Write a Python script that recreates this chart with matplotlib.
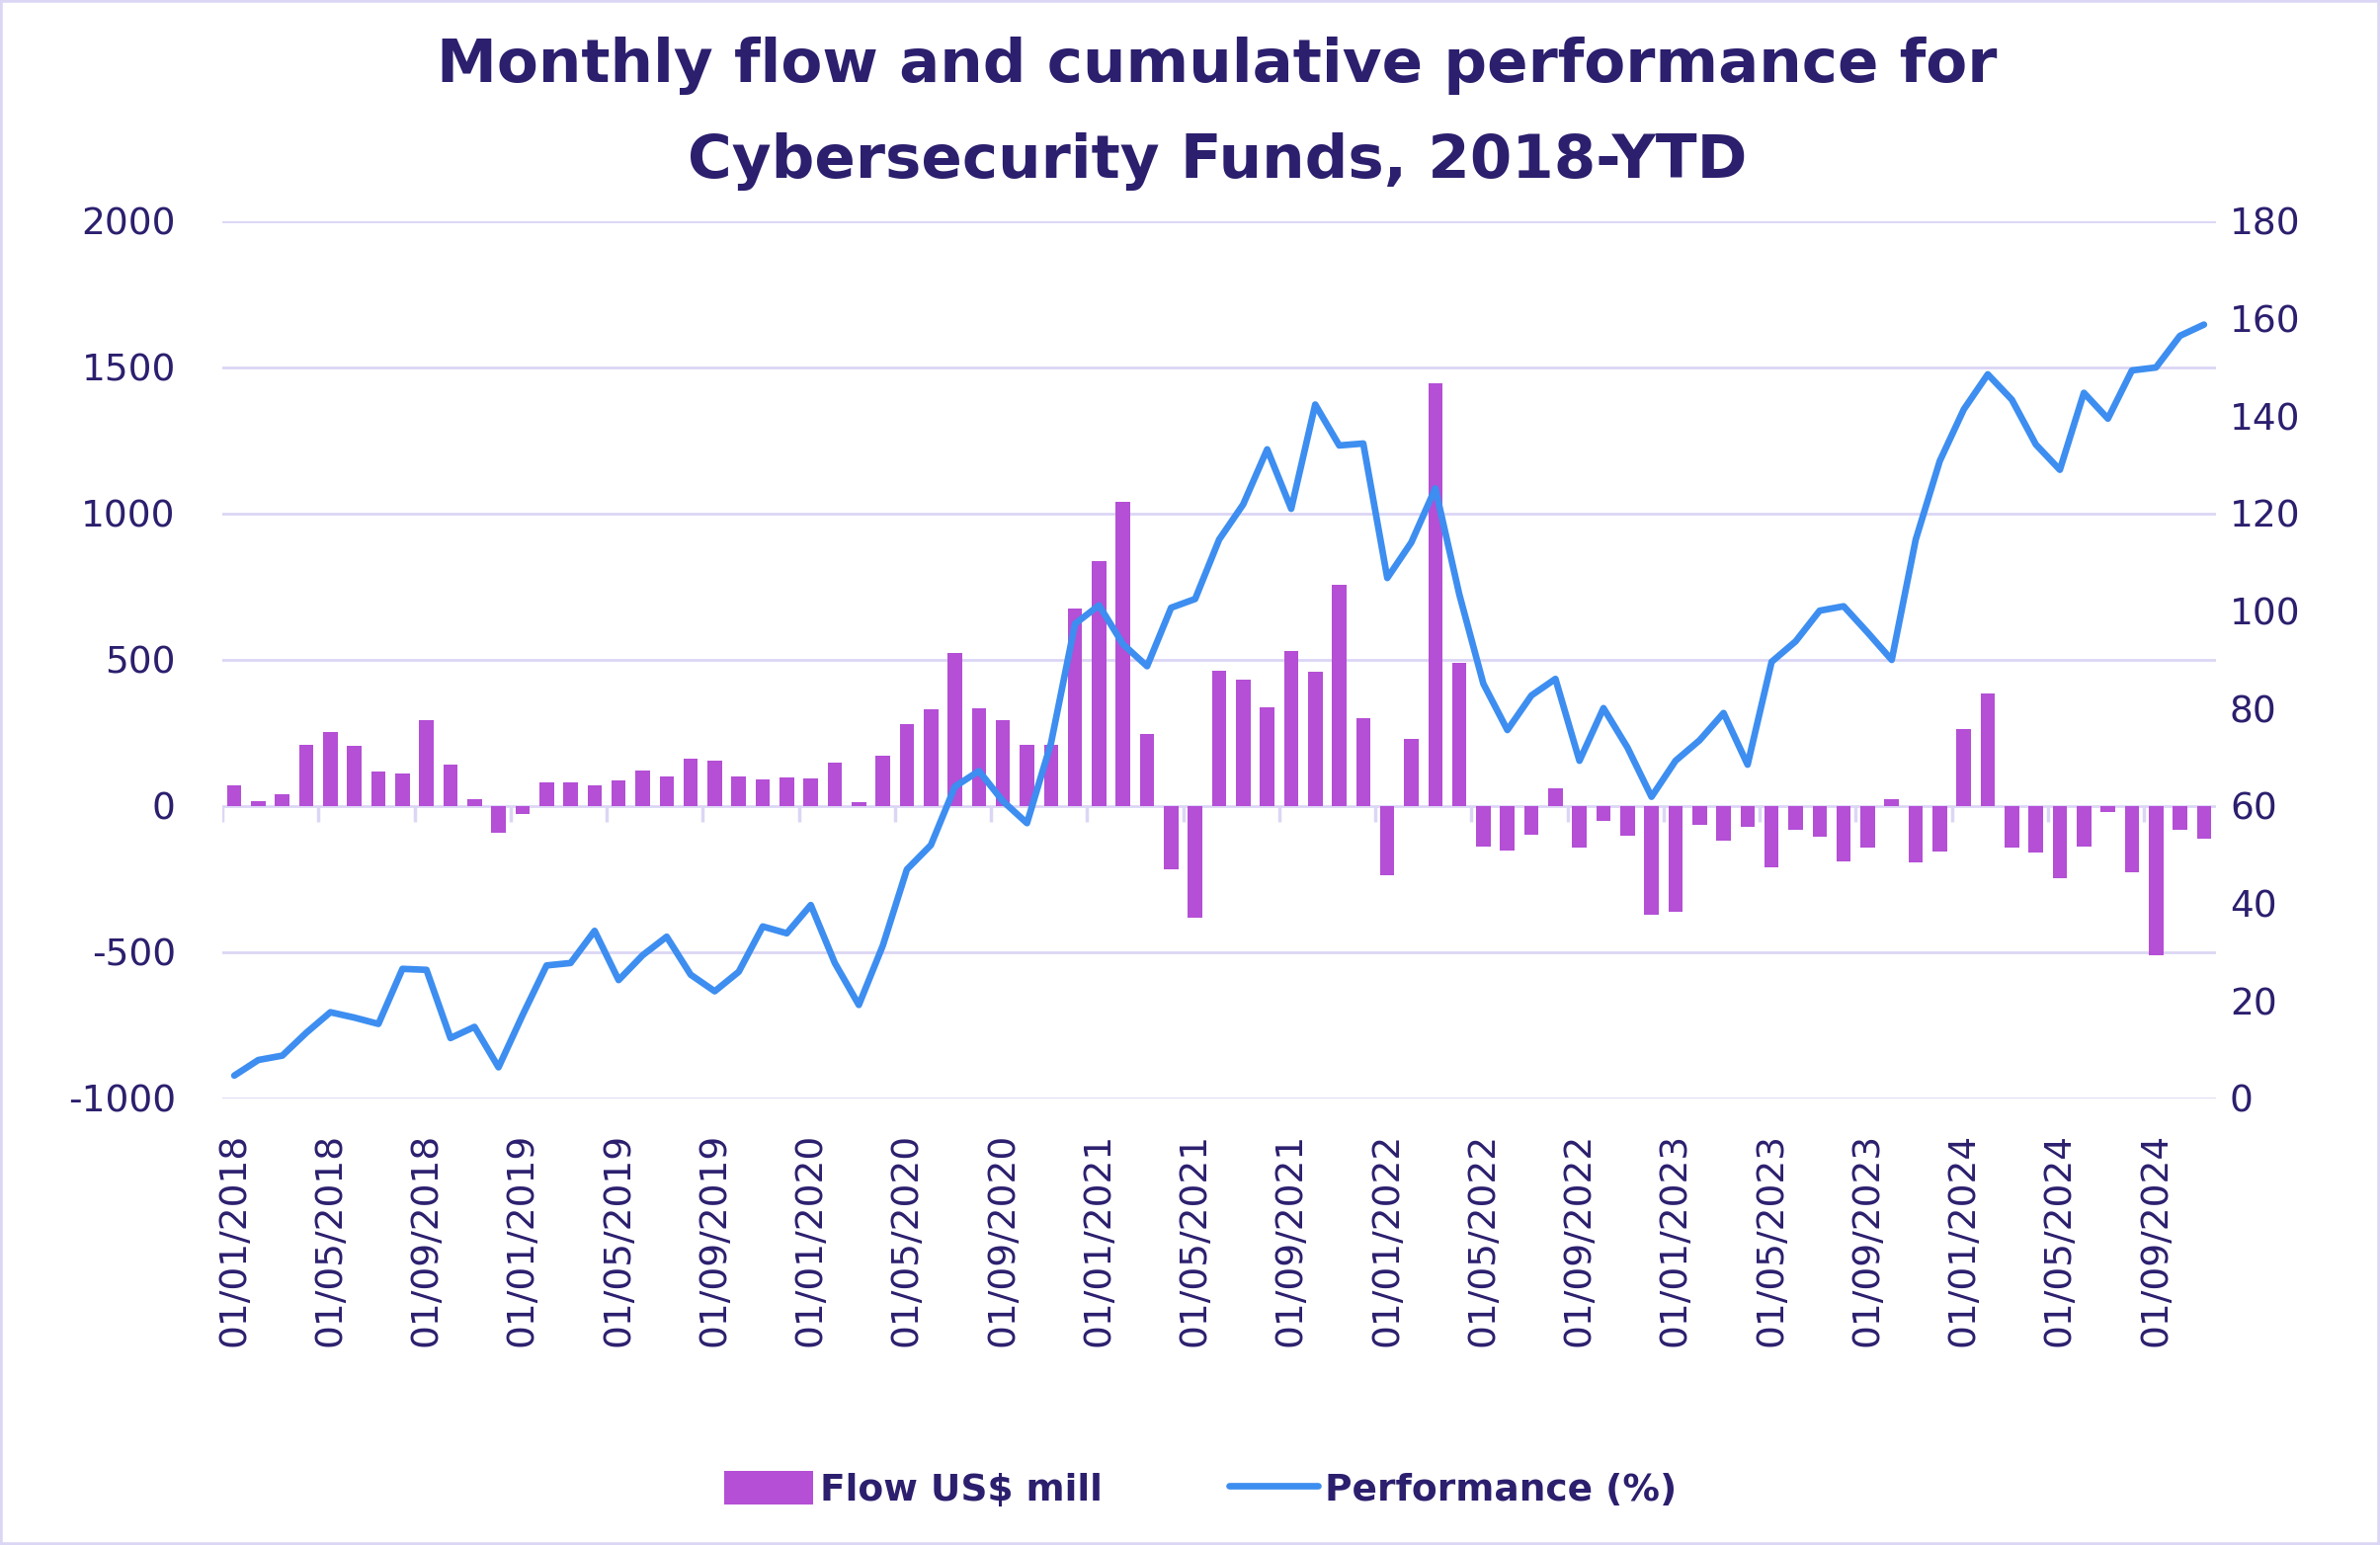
import numpy as np
import pandas as pd
import matplotlib
matplotlib.use("Agg")
import matplotlib.pyplot as plt
from matplotlib.patches import Rectangle

plt.rcParams["axes.unicode_minus"] = False

# monthly categories, Jan 2018 .. Nov 2024
months = pd.date_range("2018-01-01", periods=83, freq="MS")

flow = [
    72, 16, 42, 211, 253, 207, 117, 111, 295, 141, 24, -92,           # 2018
    -26, 80, 80, 70, 88, 121, 103, 161, 155, 101, 92, 98,             # 2019
    96, 149, 14, 171, 281, 332, 525, 334, 295, 209, 209, 675,         # 2020
    838, 1041, 247, -215, -382, 464, 432, 338, 529, 458, 758, 299,    # 2021
    -237, 231, 1447, 490, -137, -151, -98, 62, -143, -50, -100, -372, # 2022
    -360, -64, -119, -72, -209, -82, -105, -189, -143, 24, -193, -155,# 2023
    265, 386, -143, -159, -247, -139, -20, -225, -509, -82, -113,     # 2024
]

performance = [
    4.7, 7.9, 8.8, 13.5, 17.7, 16.6, 15.3, 26.6, 26.4, 12.4, 14.7, 6.4,
    17.1, 27.3, 27.8, 34.4, 24.3, 29.4, 33.2, 25.4, 22.0, 26.0, 35.3, 33.9,
    39.7, 27.8, 19.2, 31.4, 47.0, 52.0, 64.0, 67.2, 61.0, 56.5, 72.9, 97.4,
    101.2, 93.2, 88.7, 100.7, 102.5, 114.7, 121.9, 133.2, 121.0, 142.4, 134.0, 134.4,
    106.8, 114.1, 125.2, 103.4, 85.1, 75.6, 82.7, 86.1, 69.3, 80.1, 72.0, 61.9,
    69.3, 73.5, 79.1, 68.5, 89.6, 93.8, 100.1, 101.0, 95.6, 90.0, 114.7, 130.8,
    141.4, 148.6, 143.4, 134.2, 129.0, 144.8, 139.5, 149.4, 150.0, 156.5, 158.8,
]

NAVY = "#2b1f6e"
PURPLE = "#b44fd6"
BLUE = "#3d8ef0"
GRID = "#dcd6f5"

W, H = 2409, 1564
fig = plt.figure(figsize=(W / 100, H / 100), dpi=100)
ax = fig.add_axes([225 / W, 1 - 1112 / H, (2243 - 225) / W, (1112 - 224) / H])

x = np.arange(len(flow))
bars = ax.bar(x, flow, width=0.6, color=PURPLE, label="Flow US$ mill", zorder=2)
ax.set_xlim(-0.5, len(flow) - 0.5)
ax.set_ylim(-1000, 2000)
ax.set_yticks(range(-1000, 2001, 500))
ax.grid(axis="y", color=GRID, lw=2, zorder=0)
ax.set_axisbelow(True)
for s in ax.spines.values():
    s.set_visible(False)
ax.tick_params(axis="y", length=0, pad=34, labelsize=27, labelcolor=NAVY)

tick_idx = x[::4]
ax.set_xticks(tick_idx)
ax.set_xticklabels([m.strftime("%d/%m/%Y") for m in months[::4]], rotation=90)
ax.tick_params(axis="x", length=0, pad=25, labelsize=27, labelcolor=NAVY)
# excel-style category ticks sitting on the zero line
ax.vlines(tick_idx - 0.5, -55, 0, color=GRID, lw=2.5, zorder=1)

ax2 = ax.twinx()
line, = ax2.plot(x, performance, color=BLUE, lw=4.8, solid_joinstyle="round",
                 solid_capstyle="round", label="Performance (%)")
ax2.set_ylim(0, 180)
ax2.set_yticks(range(0, 181, 20))
for s in ax2.spines.values():
    s.set_visible(False)
ax2.tick_params(axis="y", length=0, pad=10, labelsize=27, labelcolor=NAVY)

fig.text(1232 / W, 1 - 83 / H, "Monthly flow and cumulative performance for",
         ha="center", va="baseline", fontsize=44, fontweight="bold", color=NAVY)
fig.text(1232 / W, 1 - 180 / H, "Cybersecurity Funds, 2018-YTD",
         ha="center", va="baseline", fontsize=44, fontweight="bold", color=NAVY)

fig.legend(handles=[bars, line], loc="center", bbox_to_anchor=(1215 / W, 1 - 1508 / H),
           ncol=2, frameon=False, prop={"weight": "bold", "size": 27}, labelcolor=NAVY,
           handlelength=2.4, handleheight=1.0, columnspacing=3.4, handletextpad=0.2)

fig.patches.append(Rectangle((0, 0), 1, 1, transform=fig.transFigure, fill=False,
                             ec=GRID, lw=4))

fig.savefig("out.png", dpi=100)
